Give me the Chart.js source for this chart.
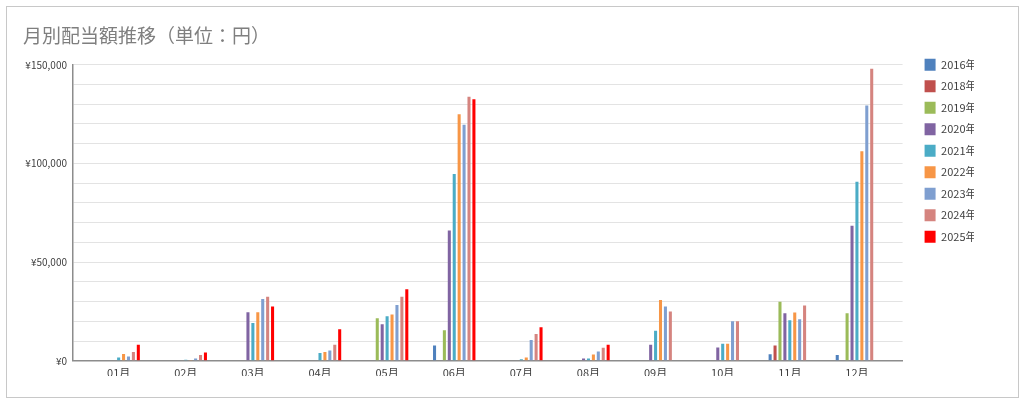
<!DOCTYPE html>
<html>
<head>
<meta charset="utf-8">
<script src="https://cdn.jsdelivr.net/npm/chart.js@4"></script>
<style>
  body { margin: 0; background: #fff; }
  #frame { position: absolute; left: 6px; top: 6px; width: 1011px; height: 390px; border: 1px solid #c8c8c8; }
  #chart { position: absolute; left: 0; top: 0; }
</style>
</head>
<body>
<div id="frame"></div>
<canvas id="chart" width="1024" height="403"></canvas>
<script>
const months = ["01月", "02月", "03月", "04月", "05月", "06月", "07月", "08月", "09月", "10月", "11月", "12月"];
const years = ["2016年", "2018年", "2019年", "2020年", "2021年", "2022年", "2023年", "2024年", "2025年"];

const y2016 = [null, null, null, null, null, 7700, null, null, null, null, 3300, 3000];
const y2018 = [null, null, null, null, null, null, null, null, null, null, 7700, null];
const y2019 = [null, null, null, null, 21600, 15500, null, null, null, null, 29900, 24100];
const y2020 = [null, null, 24600, null, 18500, 66000, null, 1200, 8100, 6700, 24100, 68400];
const y2021 = [1700, 500, 19100, 3900, 22600, 94700, 800, 1200, 15200, 8600, 20600, 90700];
const y2022 = [3500, 400, 24600, 4400, 23400, 125000, 1700, 3200, 30800, 8600, 24500, 106200];
const y2023 = [2200, 1200, 31300, 5200, 28300, 119600, 10600, 4700, 27500, 20000, 21100, 129400];
const y2024 = [4400, 3000, 32500, 8100, 32400, 133800, 13600, 6600, 25000, 20000, 28000, 148000];
const y2025 = [8100, 4200, 27500, 16000, 36200, 132600, 17000, 8100, null, null, null, null];

const yTicks = [0, 50000, 100000, 150000];

const series = [y2016, y2018, y2019, y2020, y2021, y2022, y2023, y2024, y2025];
const colors = ["#4f81bd", "#c0504d", "#9bbb59", "#8064a2", "#4bacc6", "#f79646", "#7f9fd0", "#d5847f", "#ff0000"];

const font = "'Noto Sans CJK JP', 'Noto Sans', sans-serif";

// move the legend a bit right/up of where the layout puts it
const legendShift = {
  id: "legendShift",
  afterLayout(chart) {
    const lg = chart.legend;
    const pad = lg.options.labels.padding;
    lg.left = chart.chartArea.right + 22 - pad;
    lg.top = chart.chartArea.top - 6 - pad;
  },
};

new Chart(document.getElementById("chart"), {
  type: "bar",
  data: {
    datasets: series.map((vals, i) => ({
      label: years[i],
      data: vals.map((v, m) => ({ x: m, y: v })),
      backgroundColor: colors[i],
      borderWidth: 0,
    })),
  },
  options: {
    responsive: false,
    animation: false,
    categoryPercentage: 0.66,
    barPercentage: 0.62,
    layout: { padding: { left: 23, right: 50, top: 0, bottom: 27 } },
    scales: {
      x: {
        type: "linear",
        min: -0.68,
        max: 11.68,
        offset: false,
        grid: { display: false, offset: false },
        border: { display: true, color: "#8c8c8c", width: 1.5 },
        ticks: {
          stepSize: 1,
          includeBounds: false,
          autoSkip: false,
          maxRotation: 0,
          padding: -3,
          color: "#404040",
          font: { family: font, size: 11 },
          callback: (v) => (Number.isInteger(v) ? months[v] : ""),
        },
      },
      y: {
        min: 0,
        max: 150000,
        afterFit: (s) => { s.width = 50; },
        grid: { color: "#e3e3e3", drawTicks: false },
        border: { display: true, color: "#8c8c8c", width: 1.5 },
        ticks: {
          stepSize: 10000,
          padding: 6,
          color: "#404040",
          font: { family: font, size: 10 },
          callback: (v) => (yTicks.includes(v) ? "¥" + v.toLocaleString("en-US") : ""),
        },
      },
    },
    plugins: {
      title: {
        display: true,
        text: "月別配当額推移（単位：円）",
        align: "start",
        color: "#7f7f7f",
        font: { family: font, size: 19, weight: "normal" },
        padding: { top: 24, bottom: 18 },
      },
      legend: {
        position: "right",
        align: "start",
        labels: {
          boxWidth: 11,
          boxHeight: 12,
          padding: 9.5,
          color: "#404040",
          font: { family: font, size: 11 },
        },
      },
      tooltip: { enabled: false },
    },
  },
  plugins: [legendShift],
});
</script>
</body>
</html>
